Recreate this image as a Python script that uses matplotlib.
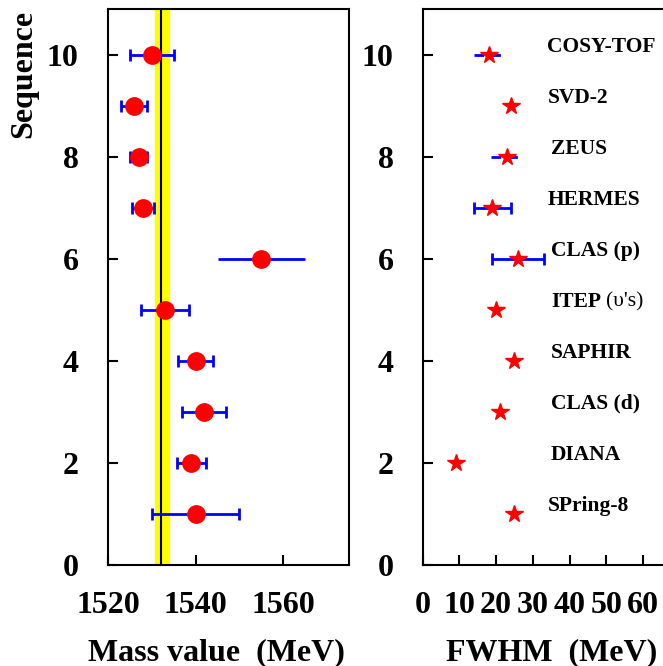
import matplotlib
matplotlib.use('Agg')
import matplotlib.pyplot as plt

# pentaquark mass / width measurements, top to bottom
sequence = [10, 9, 8, 7, 6, 5, 4, 3, 2, 1]
experiments = ['COSY-TOF', 'SVD-2', 'ZEUS', 'HERMES', 'CLAS (p)',
               'ITEP', 'SAPHIR', 'CLAS (d)', 'DIANA', 'SPring-8']
mass = [1530, 1526, 1527, 1528, 1555, 1533, 1540, 1542, 1539, 1540]
mass_err = [5, 3, 2, 2.6, 10, 5.5, 4, 5, 3.3, 10]
mass_capped = [True, True, True, True, False, True, True, True, True, True]
fwhm = [18, 24, 23, 19, 26, 20, 25, 21, 9, 25]
fwhm_err = [4, 0, 4.5, 5, 7, 0, 0, 0, 0, 0]
fwhm_dashed = [True, False, True, False, False, False, False, False, False, False]

avg_mass = 1532.1
avg_band = (1530.8, 1533.9)

FONT = 'Liberation Serif'
plt.rcParams['font.family'] = [FONT, 'DejaVu Serif']
plt.rcParams['font.weight'] = 'bold'
plt.rcParams['axes.linewidth'] = 1.5

W, H = 663, 666
fig = plt.figure(figsize=(W / 100, H / 100), dpi=100)


def px_axes(x0, x1, y0, y1):
    return fig.add_axes([x0 / W, 1 - y1 / H, (x1 - x0) / W, (y1 - y0) / H])


ax1 = px_axes(108, 349, 9, 565)
ax2 = px_axes(422.7, 679.6, 9, 565)

BLUE = '#0000ff'
RED = '#ff0000'

# left panel: mass
ax1.axvspan(avg_band[0], avg_band[1], color='#ffff00', zorder=1)
ax1.axvline(avg_mass, color='black', lw=1.5, zorder=2)
for y, m, e, cap in zip(sequence, mass, mass_err, mass_capped):
    ax1.errorbar(m, y, xerr=e, fmt='none', ecolor=BLUE, elinewidth=2,
                 capsize=4 if cap else 0, capthick=2, zorder=3)
ax1.plot(mass, sequence, 'o', color=RED, ms=12.5, zorder=4)
ax1.set_xlim(1520, 1575)
ax1.set_xticks([1520, 1540, 1560])

# right panel: width
for y, f, e, dashed in zip(sequence, fwhm, fwhm_err, fwhm_dashed):
    if e <= 0:
        continue
    if dashed:
        ax2.plot([f - e, f + e], [y, y], color=BLUE, lw=2,
                 dashes=(3.5, 2.5), zorder=3)
    else:
        ax2.errorbar(f, y, xerr=e, fmt='none', ecolor=BLUE, elinewidth=2,
                     capsize=4, capthick=2, zorder=3)
ax2.plot(fwhm, sequence, '*', color=RED, ms=13, mec=RED, zorder=4)
ax2.set_xlim(0, 70)
ax2.set_xticks([0, 10, 20, 30, 40, 50, 60])

label_x = [34, 34, 35, 34, 35, 35, 35, 35, 35, 34]
label_dy = 0.16
for lx, y, name in zip(label_x, sequence, experiments):
    ax2.text(lx, y + label_dy, name, fontsize=15.5, fontweight='bold',
             va='center', ha='left')
# ITEP carries a non-bold suffix
ax2.text(50.0, 5 + label_dy, "(\u03c5's)", fontsize=15.5, fontweight='normal',
         va='center', ha='left')

for ax in (ax1, ax2):
    ax.set_ylim(0, 10.9)
    ax.set_yticks([0, 2, 4, 6, 8, 10])
    ax.tick_params(direction='in', length=7, width=1.5, labelsize=23,
                   top=False, right=False)
    ax.tick_params(axis='y', pad=21)
    ax.tick_params(axis='x', pad=19)
    for lab in ax.get_xticklabels() + ax.get_yticklabels():
        lab.set_fontweight('bold')

ax1.set_xlabel('Mass value  (MeV)', fontsize=23, fontweight='bold')
ax1.xaxis.set_label_coords(0.448, -0.132)
ax2.set_xlabel('FWHM  (MeV)', fontsize=23, fontweight='bold')
ax2.xaxis.set_label_coords(0.5, -0.132)

fig.text(24 / W, 1 - 74 / H, 'Sequence', rotation=90, fontsize=23,
         fontweight='bold', ha='center', va='center')

fig.savefig('out.png', dpi=100)
